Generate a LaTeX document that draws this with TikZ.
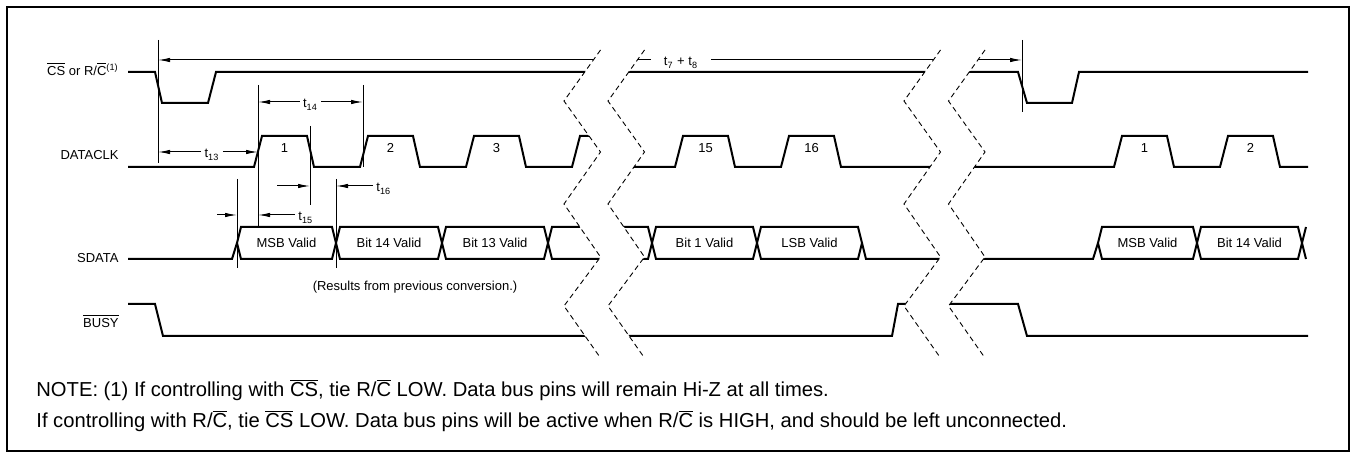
\documentclass[tikz,border=0pt]{standalone}
\usepackage{fontspec}
\setmainfont{Liberation Sans}
\usetikzlibrary{arrows.meta, positioning, calc}

\newcommand{\ovl}[1]{$\overline{\mbox{#1}}$}
% time break: white gap between two dashed zigzags (top x of left and right line)
\newcommand{\sigbreak}[2]{%
  \fill[white] (#1,50) -- ({#1-36.5},101) -- (#1,152) -- ({#1-36.5},204) -- (#1,257) -- ({#1-36.5},306) -- (#1,358)
    -- (#2,358) -- ({#2-36.5},306) -- (#2,257) -- ({#2-36.5},204) -- (#2,152) -- ({#2-36.5},101) -- (#2,50) -- cycle;
  \draw[brk] (#1,50) -- ({#1-36.5},101) -- (#1,152) -- ({#1-36.5},204) -- (#1,257) -- ({#1-36.5},306) -- (#1,358);
  \draw[brk] (#2,50) -- ({#2-36.5},101) -- (#2,152) -- ({#2-36.5},204) -- (#2,257) -- ({#2-36.5},306) -- (#2,358);
}

\begin{document}
\begin{tikzpicture}[x=0.5pt, y=-0.5pt,
  sig/.style={line width=1pt},
  guide/.style={line width=0.5pt},
  dim/.style={line width=0.5pt, -{Latex[length=6pt, width=2.2pt]}},
  brk/.style={line width=0.45pt, dash pattern=on 2.6pt off 1.8pt},
  lbl/.style={font=\fontsize{6.5}{8}\selectfont, inner sep=0pt},
  signame/.style={lbl, anchor=base east},
  dimlbl/.style={lbl, anchor=base, inner xsep=1.5pt},
  notetext/.style={font=\fontsize{10.1}{12}\selectfont, inner sep=0pt, anchor=base west}
]
  \useasboundingbox (0,0) rectangle (1356,453);
  \draw[line width=1pt] (7,7) rectangle (1349,451);

  % Signals
  \draw[sig] (128,72) -- (155,72) -- (162,103) -- (208,103) -- (216,72) -- (1018,72) -- (1027,103) -- (1072,103) -- (1079,72) -- (1308,72);
  \draw[sig] (128,167) \foreach \r in {254,360,466,572,675,781,1114,1220} { -- (\r,167) -- ({\r+8},136) -- ({\r+53},136) -- ({\r+60},167) } -- (1308,167);
  \draw[sig] (128,259) -- (232,259) -- (237,243);
  \foreach \a/\b in {237/336, 336/442, 442/548, 548/652, 652/757, 757/862, 1098/1197, 1197/1302}
    \draw[sig] (\a,243) -- ({\a+4},227) -- ({\b-4},227) -- (\b,243) -- ({\b-4},259) -- ({\a+4},259) -- cycle;
  \draw[sig] (862,243) -- (866,259) -- (1093,259) -- (1098,243);
  \draw[sig] (1306,227) -- (1302,243) -- (1306,259);
  \draw[sig] (128,304) -- (155,304) -- (163,336) -- (892,336) -- (898,304) -- (1018,304) -- (1027,336) -- (1308,336);

  % Timing guides
  \coordinate (csfallA) at (158,40);   \draw[guide] (csfallA) -- (158,163);
  \coordinate (clkriseA) at (258,85);  \draw[guide] (clkriseA) -- (258,227);
  \coordinate (clkriseB) at (363,85);  \draw[guide] (clkriseB) -- (363,167);
  \coordinate (clkfallA) at (310,126); \draw[guide] (clkfallA) -- (310,205);
  \coordinate (dstart) at (237,179);   \draw[guide] (dstart) -- (237,268);
  \coordinate (dcross) at (336,179);   \draw[guide] (dcross) -- (336,268);
  \coordinate (csfallB) at (1022,40);  \draw[guide] (csfallB) -- (1022,112);

  % Timing labels
  \coordinate (d78) at (681,60);
  \node[dimlbl, inner xsep=6.5pt] (t78) at (681,66) {t\textsubscript{7} + t\textsubscript{8}};
  \draw[dim] (t78.west |- d78) -- (csfallA |- d78);
  \draw[dim] (t78.east |- d78) -- (csfallB |- d78);

  \coordinate (d13) at (212,152);
  \node[dimlbl] (t13) at (212,158) {t\textsubscript{13}};
  \draw[dim] (t13.west |- d13) -- (csfallA |- d13);
  \draw[dim] (t13.east |- d13) -- (clkriseA |- d13);

  \coordinate (d14) at (310.5,102);
  \node[dimlbl] (t14) at (310.5,108) {t\textsubscript{14}};
  \draw[dim] (t14.west |- d14) -- (clkriseA |- d14);
  \draw[dim] (t14.east |- d14) -- (clkriseB |- d14);

  \coordinate (d15) at (217,215);
  \node[dimlbl, anchor=base west] (t15) at (295,221) {t\textsubscript{15}};
  \draw[dim] (d15) -- (dstart |- d15);
  \draw[dim] (t15.west |- d15) -- (clkriseA |- d15);

  \coordinate (d16) at (277,186);
  \node[dimlbl, anchor=base west] (t16) at (373,192) {t\textsubscript{16}};
  \draw[dim] (d16) -- (clkfallA |- d16);
  \draw[dim] (t16.west |- d16) -- (dcross |- d16);

  % Breaks
  \sigbreak{600.5}{644.5}
  \sigbreak{940.5}{985}

  % Names
  \node[signame] (csname) at (119,75.5) {\ovl{CS} or R/\ovl{C}\textsuperscript{(1)}};
  \node[signame] (clkname) at (119,159.5) {DATACLK};
  \node[signame] (dataname) at (119,262.5) {SDATA};
  \node[signame] (busyname) at (119,327.5) {\ovl{BUSY}};

  \foreach \r/\n in {254/1, 360/2, 466/3, 675/15, 781/16, 1114/1, 1220/2}
    \node[lbl] (pulse\r) at ({\r+30.5},148) {\n};
  \foreach \a/\b/\t in {237/336/MSB Valid, 336/442/Bit 14 Valid, 442/548/Bit 13 Valid, 652/757/Bit 1 Valid, 757/862/LSB Valid, 1098/1197/MSB Valid, 1197/1302/Bit 14 Valid}
    \node[lbl] (bit\a) at ({(\a+\b)/2},243) {\t};
  \node[lbl] (prevconv) at (415,287) {(Results from previous conversion.)};

  % Note
  \node[notetext] (noteA) at (36,397) {NOTE: (1) If controlling with \ovl{CS}, tie R/\ovl{C} LOW. Data bus pins will remain Hi-Z at all times.};
  \node[notetext] (noteB) at (36,428) {If controlling with R/\ovl{C}, tie \ovl{CS} LOW. Data bus pins will be active when R/\ovl{C} is HIGH, and should be left unconnected.};
\end{tikzpicture}
\end{document}
